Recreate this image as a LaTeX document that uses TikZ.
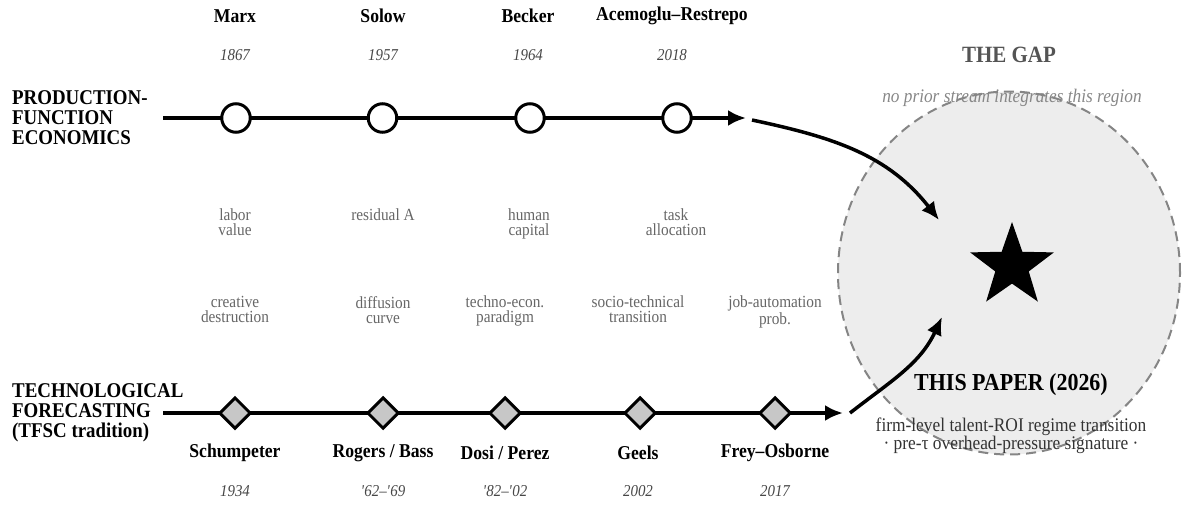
\documentclass[tikz,border=0pt]{standalone}
\usepackage{fontspec}
\setmainfont{Liberation Serif}[FakeStretch=0.9]
\usetikzlibrary{shapes.geometric,arrows.meta}
\begin{document}
\begin{tikzpicture}[x=1pt,y=-1pt,
  author/.style={font=\bfseries\fontsize{19.6}{21}\selectfont, text=black, inner sep=0pt},
  year/.style={font=\itshape\fontsize{16.6}{18}\selectfont, text=black!72, inner sep=0pt},
  desc/.style={font=\fontsize{17}{15}\selectfont, text=black!60, align=center, inner sep=0pt},
  stream/.style={font=\bfseries\fontsize{21}{20}\selectfont, align=left, anchor=west, inner sep=0pt},
  ring/.style={circle, draw=black, line width=3pt, fill=white, minimum size=28.5pt, inner sep=0pt},
  gem/.style={diamond, draw=black, line width=3pt, fill=black!22, minimum size=31.5pt, inner sep=0pt},
  flow/.style={line width=3.5pt, draw=black, -{Latex[length=18pt,width=16pt]}}
]
\useasboundingbox (0,0) rectangle (1182,527);
% gap region
\node[ellipse, minimum width=342pt, minimum height=363pt, inner sep=0pt,
  fill=black!7, draw=black!48, line width=2pt, dash pattern=on 10pt off 6pt] (gap) at (1009,273) {};
\node[font=\bfseries\fontsize{23.3}{25}\selectfont, text=black!67] (gaptitle) at (1009,55) {THE GAP};
\node[font=\itshape\fontsize{19.2}{20}\selectfont, text=black!47] (gapnote) at (1012,98) {no prior stream integrates this region};
\node[star, star points=5, star point ratio=2.5, minimum size=88pt, inner sep=0pt, fill=black] (star) at (1012,266) {};
\node[font=\bfseries\fontsize{24.4}{26}\selectfont] (paper) at (1011,385) {THIS PAPER (2026)};
\node[font=\fontsize{19.3}{15}\selectfont, text=black!80, align=center] (papernote) at (1011,436) {firm-level talent-ROI regime transition\\ · pre-τ overhead-pressure signature ·};

% stream labels
\node[stream] (pfe) at (12,118) {PRODUCTION-\\FUNCTION\\ECONOMICS};
\node[stream] (tf) at (12,413) {TECHNOLOGICAL\\FORECASTING\\(TFSC tradition)};

% top timeline
\coordinate (ts) at (163,118);
\coordinate (te) at (746,118);
\draw[flow] (ts) -- (te);
\node[ring] (c1) at (236,118) {};
\node[ring] (c2) at (382.5,118) {};
\node[ring] (c3) at (530,118) {};
\node[ring] (c4) at (677,118) {};
\foreach \x/\n/\y/\a in {235/Marx/1867/1, 383/Solow/1957/2, 528/Becker/1964/3, 672/{Acemoglu--Restrepo}/2018/4}{
  \node[author] (tn\a) at (\x,16) {\n};
  \node[year] (ty\a) at (\x,55) {\y};
}
\node[desc, anchor=north] (td1) at (235,209) {labor\\value};
\node[desc, anchor=north] (td2) at (383,209) {residual A};
\node[desc, anchor=north] (td3) at (529,209) {human\\capital};
\node[desc, anchor=north] (td4) at (676,209) {task\\allocation};

% bottom timeline
\coordinate (bs) at (163,413);
\coordinate (be) at (843,413);
\draw[flow] (bs) -- (be);
\node[gem] (d1) at (235,413) {};
\node[gem] (d2) at (383,413) {};
\node[gem] (d3) at (505,413) {};
\node[gem] (d4) at (640,413) {};
\node[gem] (d5) at (775,413) {};
\foreach \x/\n/\y/\a in {235/Schumpeter/1934/1, 383/{Rogers / Bass}/{\textquotesingle62--\textquotesingle69}/2, 505/{Dosi / Perez}/{\textquotesingle82--\textquotesingle02}/3, 638/Geels/2002/4, 775/{Frey--Osborne}/2017/5}{
  \node[author] (bn\a) at (\x,453) {\n};
  \node[year] (by\a) at (\x,491) {\y};
}
\node[desc, anchor=north] (bd1) at (235,296) {creative\\destruction};
\node[desc, anchor=north] (bd2) at (383,296) {diffusion\\curve};
\node[desc, anchor=north] (bd3) at (505,296) {techno-econ.\\paradigm};
\node[desc, anchor=north] (bd4) at (638,296) {socio-technical\\transition};
\node[desc, anchor=north] (bd5) at (775,296) {job-automation\\prob.};

% converging arrows
\coordinate (ta) at (752,120);
\coordinate (tb) at (939,220);
\coordinate (ba) at (850,413);
\coordinate (bb) at (942,317);
\draw[flow] (ta) to[out=-12, in=128] (tb);
\draw[flow] (ba) to[out=38, in=-115] (bb);
\end{tikzpicture}
\end{document}
